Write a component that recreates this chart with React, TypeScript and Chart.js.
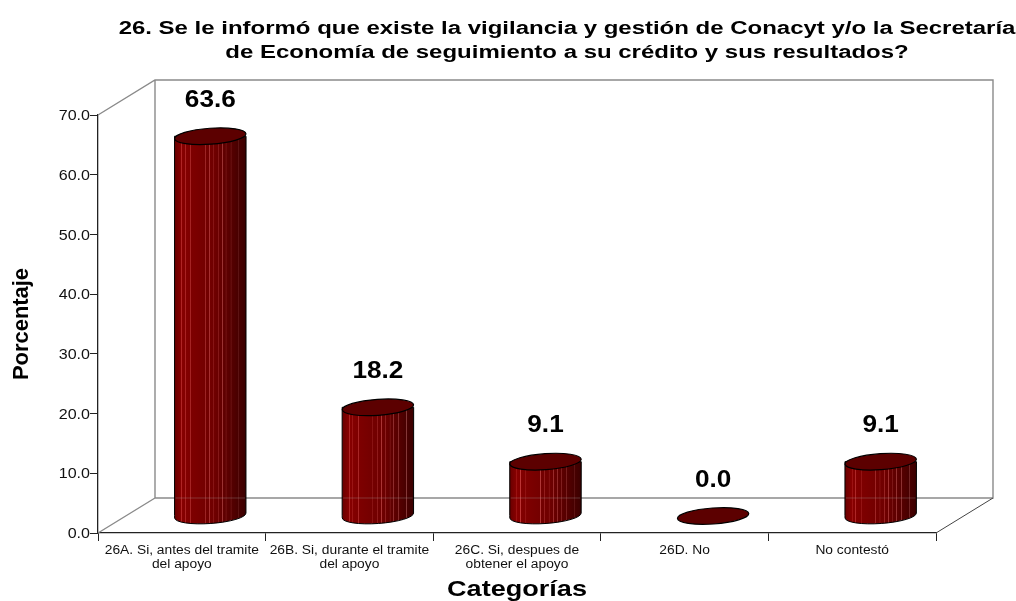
import React, { useEffect, useRef } from "react";
import { Chart, registerables } from "chart.js";

Chart.register(...registerables);

const categories: string[][] = [
  ["26A. Si, antes del tramite", "del apoyo"],
  ["26B. Si, durante el tramite", "del apoyo"],
  ["26C. Si, despues de", "obtener el apoyo"],
  ["26D. No"],
  ["No contestó"],
];
const values: number[] = [63.6, 18.2, 9.1, 0.0, 9.1];
const titleLines: string[] = [
  "26. Se le informó que existe la vigilancia y gestión de Conacyt y/o la Secretaría",
  "de Economía de seguimiento a su crédito y sus resultados?",
];
const yTitle = "Porcentaje";
const xTitle = "Categorías";

const FONT = '"Liberation Sans", Arial, sans-serif';
const DEPTH_X = 57;
const DEPTH_Y = 35;
const BAR_DX = 28.5;
const BAR_DY = 17;
const RY = 8;
const TILT = -0.07;
const STRIPES = [0.1, 0.15, 0.226, 0.43, 0.49, 0.55, 0.61, 0.67, 0.72, 0.79, 0.9];

// The source picture has horizontally widened type, so text is drawn with an x stretch.
function wideText(
  ctx: CanvasRenderingContext2D,
  text: string,
  x: number,
  y: number,
  font: string,
  sx: number,
  align: CanvasTextAlign = "center",
  color = "#000",
  rotate = 0
) {
  ctx.save();
  ctx.translate(x, y);
  if (rotate) ctx.rotate(rotate);
  ctx.scale(sx, 1);
  ctx.font = font;
  ctx.fillStyle = color;
  ctx.textAlign = align;
  ctx.textBaseline = "middle";
  ctx.fillText(text, 0, 0);
  ctx.restore();
}

function bodyGradient(ctx: CanvasRenderingContext2D, left: number, width: number) {
  const g = ctx.createLinearGradient(left, 0, left + width, 0);
  const stops = [
    [0, 105],
    [0.1, 135],
    [0.3, 120],
    [0.55, 112],
    [0.8, 85],
    [1, 58],
  ];
  const shade = (t: number) => {
    for (let i = 1; i < stops.length; i++) {
      if (t <= stops[i][0]) {
        const f = (t - stops[i - 1][0]) / (stops[i][0] - stops[i - 1][0]);
        return stops[i - 1][1] + f * (stops[i][1] - stops[i - 1][1]);
      }
    }
    return 58;
  };
  const base = (t: number) => `rgb(${Math.round(shade(t))},0,0)`;
  g.addColorStop(0, base(0));
  const w = 0.6 / width;
  for (const s of STRIPES) {
    const r = Math.round(shade(s));
    g.addColorStop(s - w, base(s));
    g.addColorStop(s, `rgb(${Math.min(255, r + 60)},55,55)`);
    g.addColorStop(s + w, base(s));
  }
  g.addColorStop(1, base(1));
  return g;
}

const wallPlugin = {
  id: "wall",
  beforeDatasetsDraw(chart: any) {
    const { ctx, chartArea: a } = chart;
    ctx.save();
    ctx.strokeStyle = "#8a8a8a";
    ctx.lineWidth = 1.4;
    ctx.beginPath();
    ctx.moveTo(a.left, a.top);
    ctx.lineTo(a.left + DEPTH_X, a.top - DEPTH_Y);
    ctx.lineTo(a.right + DEPTH_X, a.top - DEPTH_Y);
    ctx.lineTo(a.right + DEPTH_X, a.bottom - DEPTH_Y);
    ctx.lineTo(a.left + DEPTH_X, a.bottom - DEPTH_Y);
    ctx.lineTo(a.left + DEPTH_X, a.top - DEPTH_Y);
    ctx.moveTo(a.left + DEPTH_X, a.bottom - DEPTH_Y);
    ctx.lineTo(a.left, a.bottom);
    ctx.stroke();
    ctx.strokeStyle = "#444";
    ctx.lineWidth = 1;
    ctx.beginPath();
    ctx.moveTo(a.right, a.bottom);
    ctx.lineTo(a.right + DEPTH_X, a.bottom - DEPTH_Y);
    ctx.stroke();
    ctx.restore();
  },
};

const cylinderPlugin = {
  id: "cylinder",
  beforeDatasetDraw(chart: any) {
    chart.ctx.save();
    chart.ctx.translate(BAR_DX, -BAR_DY);
  },
  afterDatasetDraw(chart: any, args: any) {
    const { ctx } = chart;
    args.meta.data.forEach((bar: any, i: number) => {
      const rx = bar.width / 2;
      const left = bar.x - rx;
      if (values[i] > 0) {
        ctx.beginPath();
        ctx.moveTo(left, bar.y);
        ctx.lineTo(left, bar.base);
        ctx.ellipse(bar.x, bar.base, rx, RY, TILT, Math.PI, 0, true);
        ctx.lineTo(left + bar.width, bar.y);
        ctx.closePath();
        ctx.fillStyle = bodyGradient(ctx, left, bar.width);
        ctx.fill();
        ctx.strokeStyle = "#000";
        ctx.lineWidth = 1;
        ctx.stroke();
        ctx.strokeStyle = "rgba(170,170,170,0.3)";
        ctx.beginPath();
        const wallY = chart.chartArea.bottom - DEPTH_Y + BAR_DY;
        ctx.moveTo(left + 1, wallY);
        ctx.lineTo(left + bar.width - 1, wallY);
        ctx.stroke();
      }
      ctx.beginPath();
      ctx.ellipse(bar.x, bar.y, rx, RY, TILT, 0, Math.PI * 2);
      ctx.fillStyle = "#5c0000";
      ctx.fill();
      ctx.strokeStyle = "#000";
      ctx.lineWidth = 1.2;
      ctx.stroke();
    });
    ctx.restore();
    args.meta.data.forEach((bar: any, i: number) => {
      wideText(ctx, values[i].toFixed(1), bar.x + BAR_DX, bar.y - BAR_DY - 36, `bold 24px ${FONT}`, 1.09);
    });
  },
};

const textPlugin = {
  id: "wideLabels",
  afterDraw(chart: any) {
    const { ctx, chartArea: a } = chart;
    titleLines.forEach((line, i) => wideText(ctx, line, 567, 29 + i * 24, `bold 17.5px ${FONT}`, 1.37));
    const x = chart.scales.x;
    x.ticks.forEach((t: any, i: number) => {
      const lines: string[] = Array.isArray(t.label) ? t.label : [t.label];
      lines.forEach((l, j) =>
        wideText(ctx, l, x.getPixelForTick(i), 551 + j * 14, `12px ${FONT}`, 1.15, "center", "#111")
      );
    });
    const y = chart.scales.y;
    y.ticks.forEach((t: any, i: number) => {
      wideText(ctx, t.label, a.left - 8, y.getPixelForTick(i) + 1, `15px ${FONT}`, 1.07, "right", "#111");
    });
    wideText(ctx, xTitle, (a.left + a.right) / 2, 590, `bold 22px ${FONT}`, 1.23);
    wideText(ctx, yTitle, 22, (a.top + a.bottom) / 2, `bold 21.5px ${FONT}`, 1.02, "center", "#000", -Math.PI / 2);
  },
};

export default function App() {
  const ref = useRef<HTMLCanvasElement>(null);
  useEffect(() => {
    document.body.style.margin = "0";
    const chart = new Chart(ref.current!, {
      type: "bar",
      data: {
        labels: categories,
        datasets: [
          {
            data: values,
            backgroundColor: "rgba(0,0,0,0)",
            borderWidth: 0,
            barPercentage: 0.4266,
            categoryPercentage: 1,
            clip: false,
          } as any,
        ],
      },
      plugins: [wallPlugin, cylinderPlugin, textPlugin],
      options: {
        responsive: false,
        animation: false,
        layout: { padding: { left: 0, right: 80, top: 115, bottom: 0 } },
        plugins: { legend: { display: false }, tooltip: { enabled: false } },
        scales: {
          x: {
            offset: true,
            border: { color: "#222", width: 1.3 },
            grid: { display: true, drawOnChartArea: false, color: "#222", tickLength: 8, offset: true },
            ticks: { display: false, autoSkip: false, maxRotation: 0, minRotation: 0 },
            afterFit(s: any) {
              s.height = 68;
            },
          },
          y: {
            min: 0,
            max: 70,
            border: { color: "#222", width: 1.3 },
            grid: { display: true, drawOnChartArea: false, color: "#222", tickLength: 8 },
            ticks: {
              display: false,
              stepSize: 10,
              callback: (v: any) => Number(v).toFixed(1),
            },
            afterFit(s: any) {
              s.width = 98;
            },
          },
        },
      } as any,
    });
    return () => chart.destroy();
  }, []);
  return <canvas ref={ref} width={1016} height={601} style={{ display: "block" }} />;
}
